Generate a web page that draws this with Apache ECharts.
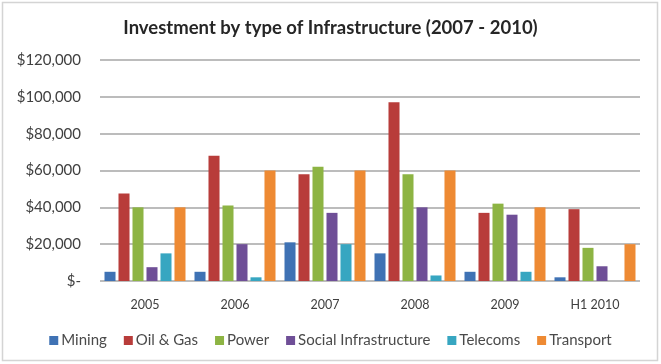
<!DOCTYPE html>
<html>
<head>
<meta charset="utf-8">
<style>
  html, body { margin: 0; padding: 0; background: #ffffff; }
  #chart { width: 661px; height: 364px; }
</style>
<script src="https://cdn.jsdelivr.net/npm/echarts@6/dist/echarts.min.js"></script>
</head>
<body>
<div id="chart"></div>
<script>
// Years / periods on the category axis
const categories = ['2005', '2006', '2007', '2008', '2009', 'H1 2010'];

// Investment per infrastructure type
const mining         = [5000, 5000, 21000, 15000, 5000, 2000];
const oilGas         = [47500, 68000, 58000, 97000, 37000, 39000];
const power          = [40000, 41000, 62000, 58000, 42000, 18000];
const socialInfra    = [7500, 20000, 37000, 40000, 36000, 8000];
const telecoms       = [15000, 2000, 20000, 3000, 5000, 0];
const transport      = [40000, 60000, 60000, 60000, 40000, 20000];

const seriesNames = ['Mining', 'Oil & Gas', 'Power', 'Social Infrastructure', 'Telecoms', 'Transport'];
const seriesValues = [mining, oilGas, power, socialInfra, telecoms, transport];
const seriesColors = ['#3f72b4', '#b83c3a', '#8db443', '#6f4f97', '#37a6c1', '#ee8a33'];

const chart = echarts.init(document.getElementById('chart'), null, { renderer: 'canvas' });

const fontFamily = 'Lato, "Open Sans", sans-serif';

chart.setOption({
  backgroundColor: '#ffffff',
  animation: false,
  title: {
    text: 'Investment by type of Infrastructure (2007 - 2010)',
    left: 'center',
    top: 14,
    textStyle: { fontFamily: fontFamily, fontWeight: 'bold', fontSize: 18.5, color: '#262626' }
  },
  graphic: [{
    type: 'rect',
    shape: { x: 2.5, y: 2.5, width: 655, height: 358 },
    style: { fill: 'none', stroke: '#d4d4d4', lineWidth: 1.5 },
    silent: true
  }],
  legend: {
    data: seriesNames,
    bottom: 11,
    left: 'center',
    icon: 'rect',
    itemWidth: 9,
    itemHeight: 9,
    itemGap: 17,
    textStyle: { fontFamily: fontFamily, fontSize: 15, color: '#4a4a4a', padding: [0, 0, 0, -2] }
  },
  grid: { left: 100, right: 21, top: 60, bottom: 83 },
  xAxis: {
    type: 'category',
    data: categories,
    axisLine: { show: false },
    axisTick: { show: false },
    axisLabel: { fontFamily: fontFamily, fontSize: 12.5, color: '#404040', margin: 17 }
  },
  yAxis: {
    type: 'value',
    min: 0,
    max: 120000,
    interval: 20000,
    axisLine: { show: false },
    axisTick: { show: false },
    splitLine: { lineStyle: { color: '#a6a6a6', width: 1.5 } },
    axisLabel: {
      fontFamily: fontFamily,
      fontSize: 15,
      color: '#404040',
      margin: 19,
      formatter: function (v) {
        if (v === 0) return '$-';
        return '$' + v.toLocaleString('en-US');
      }
    }
  },
  series: seriesNames.map(function (name, i) {
    return {
      name: name,
      type: 'bar',
      data: seriesValues[i],
      barCategoryGap: '10%',
      barGap: '27%',
      itemStyle: { color: seriesColors[i] }
    };
  })
});
</script>
</body>
</html>
